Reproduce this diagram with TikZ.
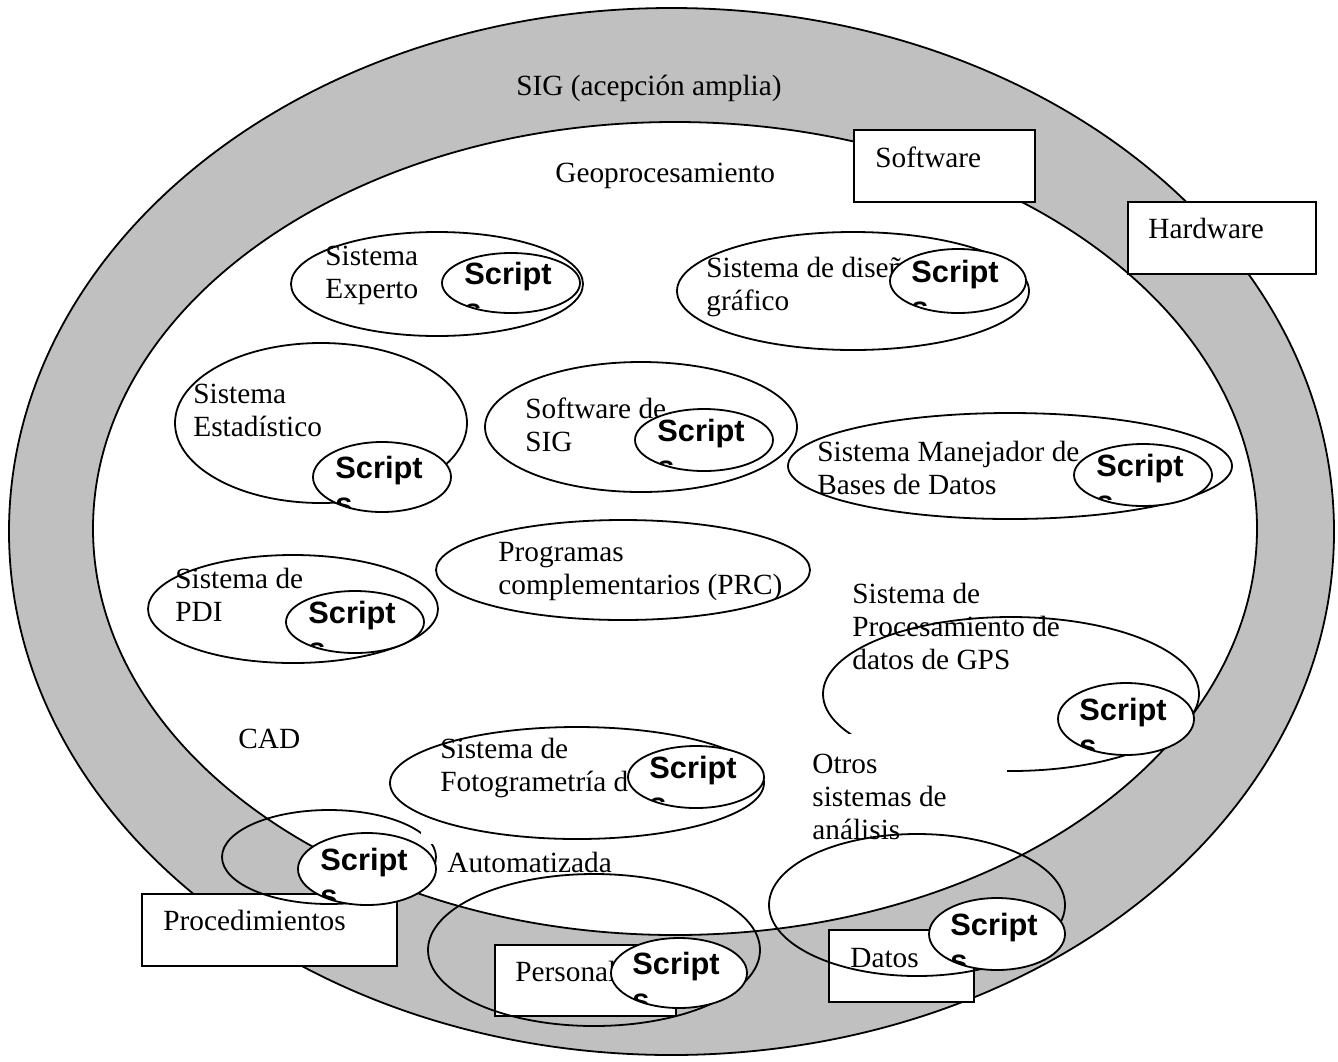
\documentclass[tikz,border=0pt]{standalone}
\usepackage{fontspec}
\setmainfont{Liberation Serif}
\newfontfamily\bubblesans{Liberation Sans}
\usetikzlibrary{shapes.geometric}
\definecolor{bandgray}{RGB}{192,192,192}
\newcommand\labelfont{\fontsize{14.65pt}{16.5pt}\selectfont}
\newcommand\bubblefont{\bubblesans\bfseries\fontsize{15.4pt}{18pt}\selectfont}
\newcommand\textlines[1]{\begin{tabular}[t]{@{}l@{}}#1\end{tabular}}
% white "Script(s)" bubble: name, cx, cy, rx, ry (rx, ry in px = half the size in pt)
\newcommand\scriptbubble[5]{%
  \node[bubble, minimum width=#4pt, minimum height=#5pt] (#1) at (#2,#3) {};
  \begin{scope}
    \clip (#2,#3) ellipse [x radius=#4, y radius=#5];
    \node[bubbletext] (#1-a) at (#2-47,#3+1) {Script};
    \node[bubbletext] (#1-b) at (#2-47,#3+37) {s};
  \end{scope}}
\begin{document}
\begin{tikzpicture}[x=0.5pt,y=-0.5pt,
  band/.style={ellipse, draw, line width=0.9pt, inner sep=0pt},
  bigell/.style={ellipse, draw, line width=0.9pt, inner sep=0pt},
  bubble/.style={ellipse, draw, fill=white, line width=0.9pt, inner sep=0pt},
  bubbletext/.style={anchor=base west, inner sep=0pt, font=\bubblefont},
  lbl/.style={anchor=base west, inner sep=0pt, font=\labelfont},
  panel/.style={rectangle, draw, fill=white, line width=0.9pt, inner sep=0pt, anchor=north west},
  cover/.style={rectangle, fill=white, inner sep=0pt, anchor=north west}]
\useasboundingbox (0,0) rectangle (1338,1061);

% outer ring (SIG) and inner area (Geoprocesamiento)
\node[band, fill=bandgray, minimum width=662.5pt, minimum height=523.5pt] (outer) at (671.5,531.5) {};
\node[band, fill=white, minimum width=582pt, minimum height=406.5pt] (inner) at (675,528.5) {};
\node[lbl] (sig) at (516,95) {SIG (acepción amplia)};
\node[lbl] (geo) at (555,182) {Geoprocesamiento};

% component boxes on the ring
\node[panel, minimum width=90.5pt, minimum height=36pt] (softbox) at (853,129) {};
\node[lbl] (softtxt) at (875,167) {Software};
\node[panel, minimum width=94pt, minimum height=36pt] (hardbox) at (1127,201) {};
\node[lbl] (hardtxt) at (1148,238) {Hardware};

% Sistema Experto
\node[lbl] (expt) at (325,265) {\textlines{Sistema\\Experto}};
\node[bigell, minimum width=146pt, minimum height=52pt] (expe) at (437,284) {};
\scriptbubble{exps}{511}{283}{69}{30}

% Sistema de diseño gráfico
\node[lbl] (dist) at (706,277) {\textlines{Sistema de diseño\\gráfico}};
\node[bigell, minimum width=176pt, minimum height=59pt] (dise) at (853,291) {};
\scriptbubble{diss}{958}{281}{68}{32}

% Sistema Estadístico
\node[lbl] (estt) at (193,403) {\textlines{Sistema\\Estadístico}};
\node[bigell, minimum width=146pt, minimum height=80pt] (este) at (321,423) {};
\scriptbubble{ests}{382}{477}{69}{35}

% Software de SIG
\node[lbl] (sigt) at (525,418) {\textlines{Software de\\SIG}};
\node[bigell, minimum width=156pt, minimum height=65pt] (sige) at (641,427) {};
\scriptbubble{sigs}{704}{440}{69}{31}

% Sistema Manejador de Bases de Datos
\node[lbl] (dbt) at (817,461) {\textlines{Sistema Manejador de\\Bases de Datos}};
\node[bigell, minimum width=222pt, minimum height=53pt] (dbe) at (1010,466) {};
\scriptbubble{dbs}{1143}{475}{69}{31}

% Programas complementarios
\node[lbl] (prct) at (498,561) {\textlines{Programas\\complementarios (PRC)}};
\node[bigell, minimum width=187pt, minimum height=50pt] (prce) at (623,570) {};

% Sistema de PDI
\node[lbl] (pdit) at (175,588) {\textlines{Sistema de\\PDI}};
\node[bigell, minimum width=145pt, minimum height=54pt] (pdie) at (293,609) {};
\scriptbubble{pdis}{355}{622}{69}{31}

% Procesamiento de datos de GPS
\node[lbl] (gpst) at (852,603) {\textlines{Sistema de\\Procesamiento de\\datos de GPS}};
\node[bigell, minimum width=188pt, minimum height=77pt] (gpse) at (1011,694) {};
\scriptbubble{gpss}{1126}{719}{68}{36}
\node[cover, minimum width=103.5pt, minimum height=58pt] (otrosbg) at (800,734) {};
\node[lbl] (otrost) at (812,773) {\textlines{Otros\\sistemas de\\análisis}};

% CAD, Procedimientos and Fotogrametría
\node[lbl] (cadt) at (238,748) {CAD};
\node[panel, minimum width=127.5pt, minimum height=36pt] (procbox) at (141,893) {};
\node[lbl] (proctxt) at (163,930) {Procedimientos};
\node[bigell, minimum width=107pt, minimum height=47pt] (cade) at (329,857) {};
\node[cover, minimum width=177pt, minimum height=59.5pt] (fotobg) at (421,725) {};
\node[lbl] (fotot) at (440,758) {\textlines{Sistema de\\Fotogrametría d}};
\node[bigell, minimum width=187pt, minimum height=56pt] (fotoe) at (577,783) {};
\scriptbubble{fotos}{696}{777}{68}{31}
\scriptbubble{cads}{367}{869}{69}{36}
\node[lbl] (autot) at (447,872) {Automatizada};

% Personal
\node[panel, minimum width=90.5pt, minimum height=35.5pt] (persbox) at (494,944) {};
\node[lbl] (perstxt) at (515,981) {Personal};
\node[bigell, minimum width=166pt, minimum height=76pt] (perse) at (594,950) {};
\scriptbubble{perss}{679}{973}{68}{35}

% Datos and other analysis systems
\node[panel, minimum width=72.5pt, minimum height=36pt] (datbox) at (828,929) {};
\node[lbl] (dattxt) at (850,967) {Datos};
\node[bigell, minimum width=148pt, minimum height=71pt] (otrose) at (917,905) {};
\scriptbubble{otross}{997}{934}{68}{36}
\end{tikzpicture}
\end{document}
